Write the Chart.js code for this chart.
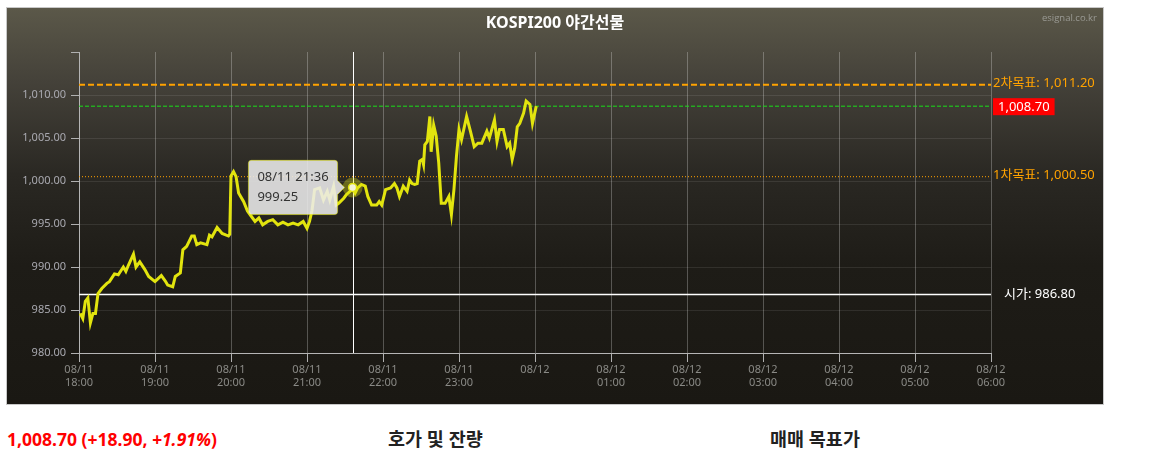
<!DOCTYPE html>
<html><head><meta charset="utf-8">
<script src="https://cdn.jsdelivr.net/npm/chart.js@4.4.0/dist/chart.umd.min.js"></script>
<style>
body{margin:0;background:#fff;font-family:'Noto Sans','Noto Sans CJK KR',sans-serif;}
#box{position:absolute;left:6px;top:7px;width:1096px;height:396px;border:1px solid #c8c8c8;
 background:linear-gradient(to bottom,#5b5849 0%,#45423a 18%,#2a2823 42%,#1e1c17 65%,#1a1813 100%);}
#wrap{position:absolute;left:0;top:0;width:1096px;height:396px;}
#title{position:absolute;left:0;top:3px;width:1096px;text-align:center;color:#fff;font-weight:bold;font-size:16px;line-height:22px;}
#brand{position:absolute;right:6px;top:3px;color:#9a9a94;font-size:9.5px;font-family:'Open Sans','Noto Sans',sans-serif;}
.bt{position:absolute;top:427px;font-weight:bold;font-size:18.5px;line-height:24px;}
#price{left:7px;color:#f00;font-size:17.5px;}
#ob{left:388px;color:#222;}
#tg{left:770px;color:#222;}
</style></head>
<body>
<div id="box">
  <div id="wrap"><canvas id="c"></canvas></div>
  <div id="title">KOSPI200 야간선물</div>
  <div id="brand">esignal.co.kr</div>
</div>
<div class="bt" id="price">1,008.70 (+18.90, <i>+1.91%</i>)</div>
<div class="bt" id="ob">호가 및 잔량</div>
<div class="bt" id="tg">매매 목표가</div>
<script>
// ---- data ----
const times = [
 '18:01','18:03','18:05','18:07','18:09','18:11','18:13','18:15','18:18','18:22',
 '18:24','18:28','18:31','18:35','18:37','18:39','18:43','18:45','18:48','18:52',
 '18:55','19:00','19:05','19:08','19:10','19:14','19:16','19:20','19:22','19:25',
 '19:29','19:31','19:33','19:36','19:41','19:43','19:45','19:49','19:53','19:58',
 '19:59','20:00','20:02','20:04','20:06','20:10','20:13','20:16','20:19','20:22',
 '20:25','20:29','20:33','20:37','20:41','20:45','20:49','20:53','20:57','21:00',
 '21:02','21:04','21:06','21:10','21:13','21:16','21:18','21:21','21:23','21:25',
 '21:29','21:31','21:34','21:36','21:38','21:40','21:43','21:46','21:48','21:51',
 '21:55','21:57','21:59','22:02','22:06','22:09','22:11','22:13','22:16','22:19',
 '22:21','22:23','22:25','22:27','22:29','22:31','22:32','22:33','22:35','22:37',
 '22:38','22:40','22:42','22:44','22:46','22:49','22:52','22:54','22:56','22:58',
 '23:00','23:02','23:06','23:09','23:12','23:15','23:18','23:22','23:24','23:28',
 '23:30','23:32','23:35','23:38','23:40','23:42','23:44','23:46','23:48','23:51',
 '23:53','23:56','23:58','00:01'
];
const prices = [
 984.6,984.0,986.0,986.4,983.5,984.6,984.6,986.9,987.5,988.1,
 988.3,989.2,989.1,990.0,989.5,990.2,991.5,990.0,990.6,989.7,
 988.9,988.3,989.0,988.4,987.9,987.7,988.9,989.3,992.0,992.4,
 993.6,993.6,992.6,992.8,992.6,993.7,993.5,994.6,993.9,993.6,
 993.8,1000.6,1001.1,1000.5,998.6,997.6,996.5,995.9,995.3,995.7,
 994.9,995.3,995.5,994.9,995.2,994.9,995.1,994.9,995.3,994.5,
 995.3,996.6,999.0,999.2,997.8,998.8,997.8,999.4,997.2,997.4,
 998.0,998.4,998.8,999.25,998.6,999.2,999.6,999.4,998.2,997.2,
 997.2,997.6,997.2,999.0,999.2,999.7,999.2,998.2,999.4,998.8,
 1000.1,999.7,999.6,999.7,1002.3,1002.5,1001.9,1004.2,1004.6,1007.5,
 1003.4,1006.5,1005.2,1002.1,997.4,997.4,998.2,996.1,999.0,1002.9,
 1006.0,1004.8,1007.5,1005.8,1004.0,1004.4,1004.4,1005.8,1005.0,1007.1,
 1004.6,1006.0,1006.0,1004.0,1004.4,1002.5,1003.8,1006.3,1006.7,1007.9,
 1009.3,1008.9,1006.7,1008.7
];
const yTicks = [980, 985, 990, 995, 1000, 1005, 1010, 1015];
const xTickHours = ['18:00','19:00','20:00','21:00','22:00','23:00','00:00','01:00','02:00','03:00','04:00','05:00','06:00'];
const refNames  = ['2차목표', 'current', '1차목표', '시가'];
const refValues = [1011.20, 1008.70, 1000.50, 986.80];
const activeTime = '21:36';

// ---- helpers ----
function toMin(t){const [h,m]=t.split(':').map(Number);return ((h-18+24)%24)*60+m;}
function dateOf(t){const h=Number(t.split(':')[0]);return h>=18?'08/11':'08/12';}
function fmt(v){return v.toLocaleString('en-US',{minimumFractionDigits:2,maximumFractionDigits:2});}
const pts = times.map((t,i)=>({x:toMin(t),y:prices[i]}));
const xMin = toMin(xTickHours[0]), xMax = 720;

const refStyles = [
 {color:'#ffa200',width:2,dash:[6,3]},
 {color:'#19e019',width:1,dash:[4,2]},
 {color:'#ffa200',width:1,dash:[1,2]},
 {color:'#ffffff',width:1.5,dash:[]}
];
const refDatasets = refValues.map((v,i)=>({
  data:[{x:xMin,y:v},{x:xMax,y:v}],
  borderColor:refStyles[i].color,borderWidth:refStyles[i].width,borderDash:refStyles[i].dash,
  pointRadius:0,pointHoverRadius:0,order:2,fill:false
}));

const FONT = "'Noto Sans','Noto Sans CJK KR',sans-serif";
const LINE = '#e2e40e';

const overlay = {
  id:'overlay',
  beforeDatasetsDraw(chart){
    const act = chart.getActiveElements();
    if(!act.length) return;
    const {ctx,chartArea} = chart;
    const el = chart.getDatasetMeta(act[0].datasetIndex).data[act[0].index];
    ctx.save();
    ctx.strokeStyle='#ffffff';ctx.lineWidth=1;
    ctx.beginPath();ctx.moveTo(Math.round(el.x)+0.5,chartArea.top);ctx.lineTo(Math.round(el.x)+0.5,chartArea.bottom);ctx.stroke();
    ctx.restore();
  },
  afterDatasetsDraw(chart){
    const {ctx,chartArea,scales} = chart;
    const act = chart.getActiveElements();
    ctx.save();
    if(act.length){
      const el = chart.getDatasetMeta(0).data[act[0].index];
      ctx.fillStyle='rgba(226,228,14,0.35)';
      ctx.beginPath();ctx.arc(el.x,el.y,10,0,Math.PI*2);ctx.fill();
      ctx.fillStyle='#f4f4d8';ctx.strokeStyle=LINE;ctx.lineWidth=1.5;
      ctx.beginPath();ctx.arc(el.x,el.y,4,0,Math.PI*2);ctx.fill();ctx.stroke();
    }
    ctx.font='13px '+FONT;ctx.textBaseline='middle';
    const x0 = chartArea.right+2;
    refValues.forEach((v,i)=>{
      const y = scales.y.getPixelForValue(v);
      if(refNames[i]==='current'){
        const txt = fmt(v); const w = ctx.measureText(txt).width+10;
        ctx.fillStyle='#ff0000';ctx.fillRect(x0,y-8,w,17);
        ctx.fillStyle='#ffffff';ctx.fillText(txt,x0+5,y+1);
      } else if(refNames[i]==='시가'){
        ctx.fillStyle='#ffffff';ctx.fillText(refNames[i]+': '+fmt(v),x0+11,y);
      } else {
        ctx.fillStyle='#ffa200';ctx.fillText(refNames[i]+': '+fmt(v),x0,y-1);
      }
    });
    ctx.restore();
  }
};

const chart = new Chart(document.getElementById('c'),{
  type:'line',
  data:{datasets:[
    {data:pts,borderColor:LINE,borderWidth:3,pointRadius:0,pointHoverRadius:0,tension:0,order:0,fill:false},
    ...refDatasets
  ]},
  options:{
    responsive:true,maintainAspectRatio:false,animation:false,events:[],
    layout:{padding:{left:0,right:112,top:44,bottom:11}},
    plugins:{
      legend:{display:false},
      tooltip:{
        enabled:true,xAlign:'right',yAlign:'center',
        backgroundColor:'rgba(236,236,236,0.88)',borderColor:'rgba(226,228,14,0.55)',borderWidth:1,
        titleColor:'#333',bodyColor:'#333',
        titleFont:{family:FONT,size:13,weight:'normal'},bodyFont:{family:FONT,size:13},
        titleMarginBottom:5,padding:{x:9,y:9},cornerRadius:3,caretSize:7,caretPadding:8,displayColors:false,
        callbacks:{
          title:(items)=>{const t=times[items[0].dataIndex];return dateOf(t)+' '+t;},
          label:(item)=>fmt(prices[item.dataIndex])
        }
      }
    },
    scales:{
      x:{type:'linear',min:xMin,max:xMax,
        afterBuildTicks:(s)=>{s.ticks=xTickHours.map(toMin).map((v,i)=>({value:i===xTickHours.length-1?720:v}));},
        afterFit:(s)=>{s.height=40;},
        grid:{color:'rgba(255,255,255,0.26)',tickColor:'#b0b0b0',tickLength:9,lineWidth:1},
        border:{color:'#b5b5b5',width:1},
        ticks:{autoSkip:false,maxRotation:0,padding:1,color:'#8a8a86',font:{family:FONT,size:11},
          callback:(v,i)=>{const t=xTickHours[i];if(t==='00:00')return '08/12';return [dateOf(t==='06:00'||toMin(t)>=360?'01:00':t),t];}
        }
      },
      y:{min:980,max:1015,
        afterBuildTicks:(s)=>{s.ticks=yTicks.map(v=>({value:v}));},
        afterFit:(s)=>{s.width=72;},
        grid:{color:(c)=>c.tick&&c.tick.value===1015?'rgba(0,0,0,0)':'rgba(255,255,255,0.09)',tickColor:'#b0b0b0',tickLength:8},
        border:{color:'#b5b5b5',width:1},
        ticks:{padding:5,color:'#a9a9b0',font:{family:FONT,size:11},
          callback:(v)=>v===1015?'':fmt(v)}
      }
    }
  },
  plugins:[overlay]
});

const idx = times.indexOf(activeTime);
const el = chart.getDatasetMeta(0).data[idx];
chart.setActiveElements([{datasetIndex:0,index:idx}]);
chart.tooltip.setActiveElements([{datasetIndex:0,index:idx}],{x:el.x,y:el.y});
chart.update('none');
</script>
</body></html>
